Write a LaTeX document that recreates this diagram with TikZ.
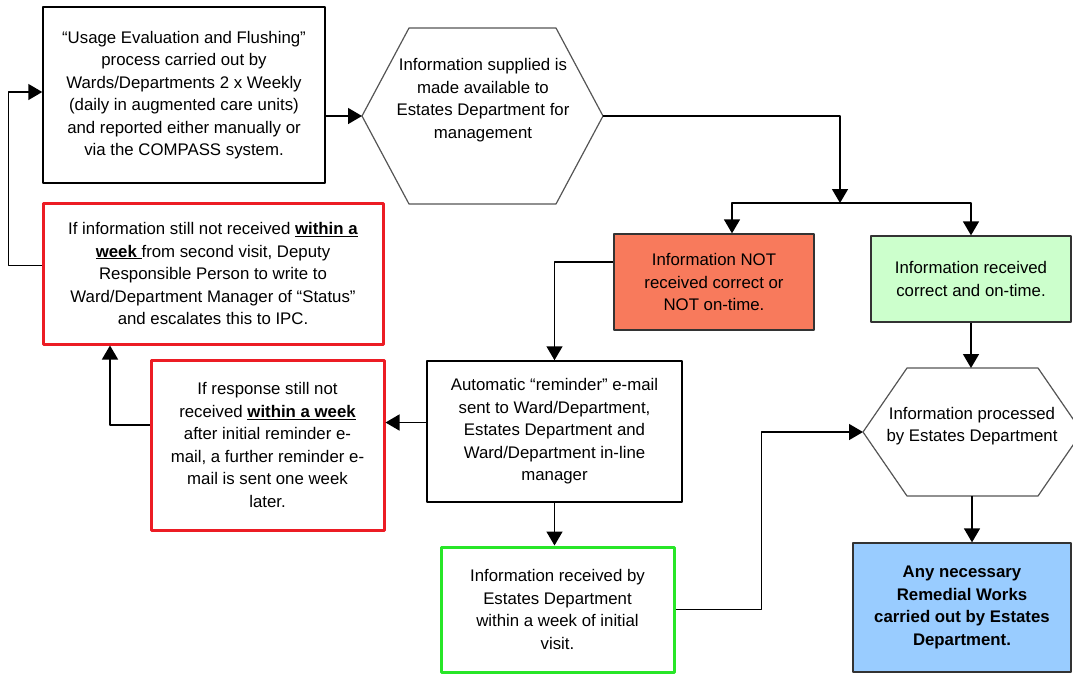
\documentclass[tikz,border=0pt]{standalone}
\usepackage{fontspec}
\setmainfont{Liberation Sans}
\usetikzlibrary{arrows.meta}
\definecolor{notokfill}{RGB}{248,122,92}
\definecolor{okfill}{RGB}{204,255,204}
\definecolor{remfill}{RGB}{153,204,255}
\definecolor{alertred}{RGB}{236,28,36}
\definecolor{goodgreen}{RGB}{40,230,40}
\definecolor{hexgray}{RGB}{85,85,85}
\newcommand{\ulb}[1]{\underline{\textbf{#1}}}
\begin{document}
\begin{tikzpicture}[x=1pt, y=-1pt, line join=round, >={Triangle[length=14pt,width=16pt]},
		font=\fontsize{16.8}{22.5}\selectfont,
		every node/.style={align=center, inner sep=0pt},
		plainbox/.style={draw, line width=1.5pt},
		alertbox/.style={draw=alertred, line width=3pt},
		goodbox/.style={draw=goodgreen, line width=3pt},
		fillbox/.style={draw=black!80, line width=1.3pt},
		hexline/.style={draw=hexgray, line width=1.2pt},
		flow/.style={->, line width=1.5pt}]
	\useasboundingbox (0,0) rectangle (1073,673);
	% boxes
	\node[plainbox, minimum width=282pt, minimum height=176pt] (usage) at (184,95)
		{“Usage Evaluation and Flushing”\\ process carried out by\\ Wards/Departments 2 x Weekly\\ (daily in augmented care units)\\ and reported either manually or\\ via the COMPASS system.};
	\node[fillbox, fill=notokfill, minimum width=200pt, minimum height=96pt] (notok) at (714,282)
		{Information NOT\\ received correct or\\ NOT on-time.};
	\node[fillbox, fill=okfill, minimum width=200pt, minimum height=86pt] (ok) at (971,279)
		{Information received\\ correct and on-time.};
	\node[fillbox, fill=remfill, minimum width=218pt, minimum height=129pt] (remedial) at (962,607.5)
		{\bfseries Any necessary\\ \bfseries Remedial Works\\ \bfseries carried out by Estates\\ \bfseries Department.};
	\node[plainbox, minimum width=255pt, minimum height=141pt] (reminder) at (554.5,431.5)
		{Automatic “reminder” e-mail\\ sent to Ward/Department,\\ Estates Department and\\ Ward/Department in-line\\ manager};
	\node[goodbox, minimum width=233pt, minimum height=125pt] (received) at (557.5,609.5)
		{Information received by\\ Estates Department\\ within a week of initial\\ visit.};
	\node[alertbox, minimum width=233pt, minimum height=170pt] (respond) at (267.5,445)
		{If response still not\\ received \ulb{within a week}\\ after initial reminder e-\\ mail, a further reminder e-\\ mail is sent one week\\ later.};
	\node[alertbox, minimum width=340pt, minimum height=141pt] (escalate) at (213,273.5)
		{If information still not received \ulb{within a}\\ \ulb{week\ }from second visit, Deputy\\ Responsible Person to write to\\ Ward/Department Manager of “Status”\\ and escalates this to IPC.};
	% hexagons
	\coordinate (hexA) at (483,116);
	\node (hexAtext) at (483,100)
		{Information supplied is\\ made available to\\ Estates Department for\\ management};
	\draw[hexline] (hexA) ++(-121,0) coordinate (hexAw) -- ++(47,-88) -- ++(147,0) -- ++(47,88) coordinate (hexAe)
		-- ++(-47,88) -- ++(-147,0) -- cycle;
	\coordinate (hexB) at (972,432);
	\node (hexBtext) at (972,426)
		{Information processed\\ by Estates Department};
	\draw[hexline] (hexB) ++(-109,0) coordinate (hexBw) -- ++(44,-64) -- ++(131,0) -- ++(44,64)
		-- ++(-44,64) -- ++(-131,0) -- cycle;
	\coordinate (hexBn) at (972,368);
	\coordinate (hexBs) at (972,496);
	% connectors
	\coordinate (split) at (840,203);
	\draw[flow] (usage.east |- hexAw) -- (hexAw);
	\draw[flow] (hexAe) -| (split);
	\draw[flow] (split) -| ([xshift=18pt]notok.north);
	\draw[flow] (split) -| (ok.north);
	\draw[flow] (ok.south) -- (ok.south |- hexBn);
	\draw[flow] (hexBs) -- (hexBs |- remedial.north);
	\draw[flow] ([yshift=20pt]notok.west) -| (reminder.north);
	\draw[flow] (reminder.south) -- (reminder.south |- received.north);
	\draw[flow] ([yshift=9pt]reminder.west) -- ([yshift=9pt]reminder.west -| respond.east);
	\draw[flow] ([yshift=20pt]respond.west) -| ([xshift=-103pt]escalate.south);
	\draw[flow] ([yshift=8pt]escalate.west) -- ++(-33,0) |- ([yshift=3pt]usage.west);
	\draw[flow] (received.east) -- ++(86,0) |- (hexBw);
\end{tikzpicture}
\end{document}
